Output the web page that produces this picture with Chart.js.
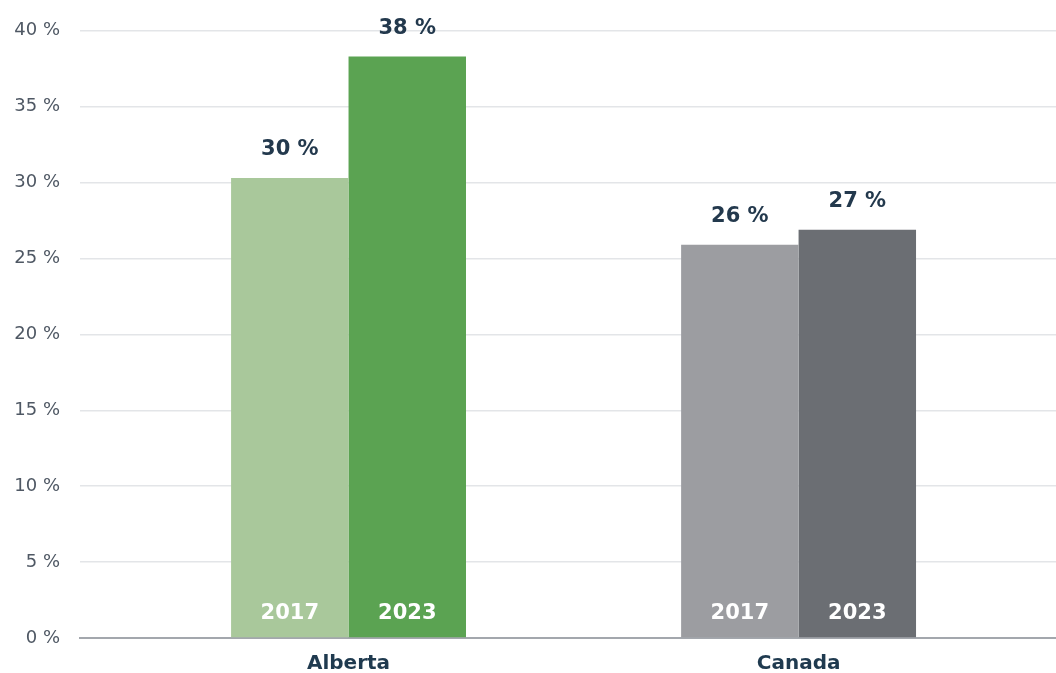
<!DOCTYPE html>
<html>
<head>
<meta charset="utf-8">
<script src="https://cdn.jsdelivr.net/npm/chart.js@4"></script>
<style>
  html, body { margin: 0; padding: 0; background: #fff; }
  #wrap { width: 1056px; height: 673px; }
</style>
</head>
<body>
<div id="wrap"><canvas id="chart"></canvas></div>
<script>
const categories = ['Alberta', 'Canada'];
const years = ['2017', '2023'];
const values2017 = [30.3, 25.9];
const values2023 = [38.3, 26.9];
const yTicks = [0, 5, 10, 15, 20, 25, 30, 35, 40];

const colors2017 = ['#a9c89b', '#9c9da1'];
const colors2023 = ['#5ba352', '#6b6e73'];
const FONT = '"DejaVu Sans", "Open Sans", sans-serif';

// value on top, year at the bottom of each bar
const barLabels = {
  id: 'barLabels',
  afterDatasetsDraw(chart) {
    const ctx = chart.ctx;
    ctx.save();
    ctx.textAlign = 'center';
    ctx.textBaseline = 'alphabetic';
    ctx.font = 'bold 21px ' + FONT;
    chart.data.datasets.forEach((ds, i) => {
      const meta = chart.getDatasetMeta(i);
      meta.data.forEach((bar, j) => {
        const v = ds.data[j].y;
        ctx.fillStyle = '#23394d';
        ctx.fillText(Math.round(v) + ' %', bar.x, bar.y - 23);
        ctx.fillStyle = '#ffffff';
        ctx.fillText(ds.label, bar.x, bar.base - 18);
      });
    });
    ctx.restore();
  }
};

new Chart(document.getElementById('chart'), {
  type: 'bar',
  data: {
    datasets: [
      {
        label: years[0],
        data: categories.map((c, i) => ({ x: i + 1, y: values2017[i] })),
        backgroundColor: colors2017
      },
      {
        label: years[1],
        data: categories.map((c, i) => ({ x: i + 1, y: values2023[i] })),
        backgroundColor: colors2023
      }
    ]
  },
  options: {
    responsive: true,
    maintainAspectRatio: false,
    animation: false,
    barPercentage: 1,
    categoryPercentage: 0.522,
    layout: { padding: { top: 30, right: 0, left: 0, bottom: 0 } },
    plugins: {
      legend: { display: false },
      tooltip: { enabled: false }
    },
    scales: {
      x: {
        type: 'linear',
        offset: false,
        min: 0.4033,
        max: 2.572,
        afterBuildTicks(axis) {
          axis.ticks = categories.map((c, i) => ({ value: i + 1 }));
        },
        afterFit(axis) { axis.height = 35; },
        grid: { display: false },
        border: { color: '#a3a7ad', width: 2 },
        ticks: {
          padding: 6,
          color: '#1f3a4f',
          font: { family: FONT, size: 20, weight: 'bold' },
          callback: v => categories[v - 1]
        }
      },
      y: {
        min: 0,
        max: 40,
        afterBuildTicks(axis) {
          axis.ticks = yTicks.map(v => ({ value: v }));
        },
        afterFit(axis) { axis.width = 80; },
        border: { display: false },
        grid: {
          color: ctx => ctx.tick && ctx.tick.value === 0 ? 'rgba(0,0,0,0)' : '#e3e5e8',
          lineWidth: 1.5,
          drawTicks: false
        },
        ticks: {
          padding: 20,
          color: '#4f5864',
          font: { family: FONT, size: 18 },
          callback: v => v + ' %'
        }
      }
    }
  },
  plugins: [barLabels]
});
</script>
</body>
</html>
